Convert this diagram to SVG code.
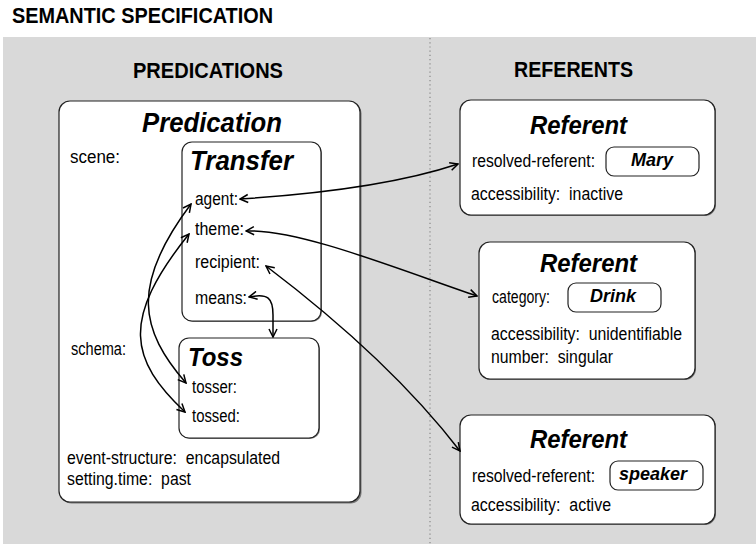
<svg xmlns="http://www.w3.org/2000/svg" width="756" height="544" viewBox="0 0 756 544" xml:space="preserve">
<style>
  text { font-family: "Liberation Sans", Arial, Helvetica, sans-serif; fill: #000; white-space: pre; }
  .h { font-size: 22px; font-weight: bold; }
  .t { font-size: 27px; font-weight: bold; font-style: italic; }
  .r { font-size: 25px; font-weight: bold; font-style: italic; }
  .v { font-size: 18px; font-weight: bold; font-style: italic; }
  .l { font-size: 17.5px; }
  .box { fill: #fff; stroke: #222; stroke-width: 1.2; }
  .shadow { fill: #777; }
  .val { fill: #fff; stroke: #222; stroke-width: 1.2; }
  .c { fill: none; stroke: #000; stroke-width: 1.5; marker-start: url(#arr); marker-end: url(#arr); }
</style>
<defs>
  <marker id="arr" viewBox="0 0 10 10" refX="9" refY="5" markerWidth="10" markerHeight="10" markerUnits="userSpaceOnUse" orient="auto-start-reverse">
    <path d="M1,1 L9,5 L1,9" fill="none" stroke="#000" stroke-width="1.5"/>
  </marker>
</defs>

<rect width="756" height="544" fill="#fff"/>
<text class="h" x="12" y="23" textLength="261" lengthAdjust="spacingAndGlyphs">SEMANTIC SPECIFICATION</text>
<rect x="3" y="37" width="753" height="507" fill="#d9d9d9"/>
<line x1="430" y1="38" x2="430" y2="544" stroke="#888" stroke-width="1.2" stroke-dasharray="1.2,3"/>

<text class="h" x="133" y="78" textLength="150" lengthAdjust="spacingAndGlyphs">PREDICATIONS</text>
<text class="h" x="514" y="77" textLength="119" lengthAdjust="spacingAndGlyphs">REFERENTS</text>

<g id="predication">
  <rect class="shadow" x="60.5" y="102.5" width="301" height="401" rx="11"/>
  <rect class="box" x="59" y="101" width="301" height="401" rx="11"/>
  <text class="t" x="142" y="132" textLength="140" lengthAdjust="spacingAndGlyphs">Predication</text>
  <text class="l" x="70" y="163" textLength="50" lengthAdjust="spacingAndGlyphs">scene:</text>
  <text class="l" x="71" y="355" textLength="55" lengthAdjust="spacingAndGlyphs">schema:</text>
  <text class="l" x="67" y="464" textLength="213" lengthAdjust="spacingAndGlyphs">event-structure:  encapsulated</text>
  <text class="l" x="67" y="485" textLength="124" lengthAdjust="spacingAndGlyphs">setting.time:  past</text>
</g>

<g id="transfer">
  <rect class="shadow" x="183" y="143" width="139" height="179" rx="10"/>
  <rect class="box" x="182" y="142" width="139" height="179" rx="10"/>
  <text class="t" x="190" y="170" textLength="103" lengthAdjust="spacingAndGlyphs">Transfer</text>
  <text class="l" x="195" y="205" textLength="43" lengthAdjust="spacingAndGlyphs">agent:</text>
  <text class="l" x="195" y="235" textLength="49" lengthAdjust="spacingAndGlyphs">theme:</text>
  <text class="l" x="195" y="268" textLength="65" lengthAdjust="spacingAndGlyphs">recipient:</text>
  <text class="l" x="195" y="304" textLength="52" lengthAdjust="spacingAndGlyphs">means:</text>
</g>

<g id="toss">
  <rect class="shadow" x="180" y="339" width="140" height="100" rx="10"/>
  <rect class="box" x="179" y="338" width="140" height="100" rx="10"/>
  <text class="r" x="188" y="366" textLength="55" lengthAdjust="spacingAndGlyphs">Toss</text>
  <text class="l" x="192" y="393" textLength="45" lengthAdjust="spacingAndGlyphs">tosser:</text>
  <text class="l" x="192" y="422" textLength="48" lengthAdjust="spacingAndGlyphs">tossed:</text>
</g>

<g id="referent-mary">
  <rect class="shadow" x="461" y="101" width="255" height="115" rx="11"/>
  <rect class="box" x="460" y="100" width="255" height="115" rx="11"/>
  <text class="r" x="530" y="134" textLength="97" lengthAdjust="spacingAndGlyphs">Referent</text>
  <text class="l" x="472" y="167" textLength="123" lengthAdjust="spacingAndGlyphs">resolved-referent:</text>
  <rect class="val" x="606" y="147" width="93" height="29" rx="8"/>
  <text class="v" x="652" y="166" text-anchor="middle">Mary</text>
  <text class="l" x="471" y="200" textLength="152" lengthAdjust="spacingAndGlyphs">accessibility:  inactive</text>
</g>

<g id="referent-drink">
  <rect class="shadow" x="480" y="243" width="216" height="137" rx="11"/>
  <rect class="box" x="479" y="242" width="216" height="137" rx="11"/>
  <text class="r" x="540" y="272" textLength="97" lengthAdjust="spacingAndGlyphs">Referent</text>
  <text class="l" x="492" y="303" textLength="58" lengthAdjust="spacingAndGlyphs">category:</text>
  <rect class="val" x="568" y="283" width="93" height="29" rx="8"/>
  <text class="v" x="613" y="302" text-anchor="middle">Drink</text>
  <text class="l" x="491" y="340" textLength="191" lengthAdjust="spacingAndGlyphs">accessibility:  unidentifiable</text>
  <text class="l" x="491" y="363" textLength="122" lengthAdjust="spacingAndGlyphs">number:  singular</text>
</g>

<g id="referent-speaker">
  <rect class="shadow" x="461" y="416" width="255" height="109" rx="11"/>
  <rect class="box" x="460" y="415" width="255" height="109" rx="11"/>
  <text class="r" x="530" y="448" textLength="97" lengthAdjust="spacingAndGlyphs">Referent</text>
  <text class="l" x="472" y="482" textLength="123" lengthAdjust="spacingAndGlyphs">resolved-referent:</text>
  <rect class="val" x="610" y="461" width="93" height="29" rx="8"/>
  <text class="v" x="653" y="480" text-anchor="middle">speaker</text>
  <text class="l" x="471" y="511" textLength="140" lengthAdjust="spacingAndGlyphs">accessibility:  active</text>
</g>

<g id="connectors">
  <path class="c" d="M240,199 Q380,190 458,164"/>
  <path class="c" d="M246,231 C300,229 400,270 477,296"/>
  <path class="c" d="M266,266 Q390,360 460,451"/>
  <path class="c" d="M249,297 C268,293 273,298 273,315 L273,337"/>
  <path class="c" d="M191,204 C130,285 140,330 186,383"/>
  <path class="c" d="M189,234 C120,320 130,360 185,412"/>
</g>
</svg>
